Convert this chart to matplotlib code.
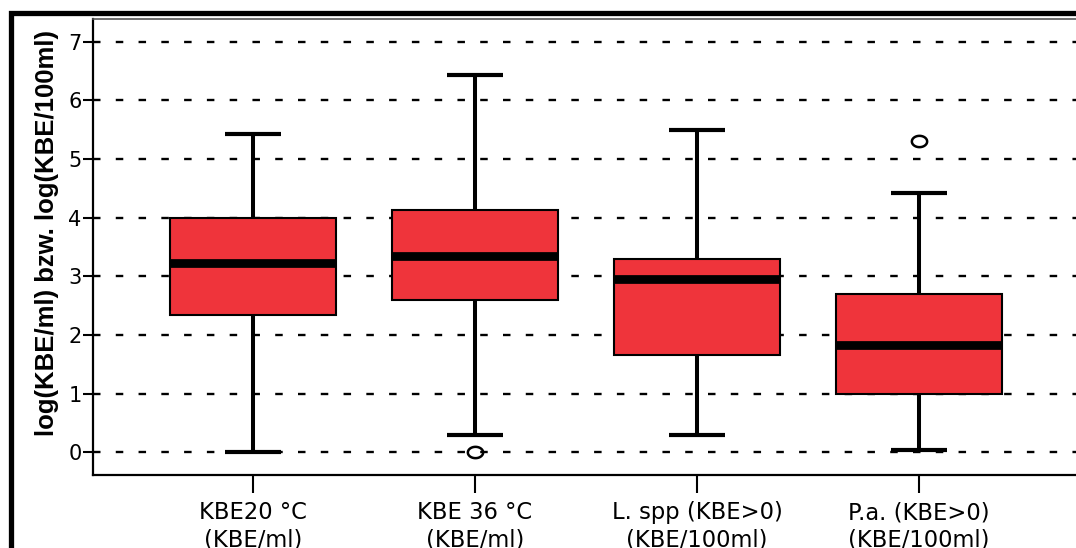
import matplotlib
matplotlib.use("Agg")
import numpy as np
import matplotlib.pyplot as plt
from matplotlib.patches import Rectangle
from matplotlib.path import Path

plt.rcParams['font.family'] = ['Liberation Sans', 'DejaVu Sans']
plt.rcParams['lines.scale_dashes'] = False

categories = ["KBE20 °C\n(KBE/ml)", "KBE 36 °C\n(KBE/ml)",
              "L. spp (KBE>0)\n(KBE/100ml)", "P.a. (KBE>0)\n(KBE/100ml)"]
whisker_low = [0.0, 0.30, 0.30, 0.04]
q1 = [2.34, 2.59, 1.65, 1.00]
median = [3.22, 3.35, 2.95, 1.83]
q3 = [4.00, 4.13, 3.30, 2.70]
whisker_high = [5.42, 6.43, 5.50, 4.42]
outliers = [[], [0.0], [], [5.30]]
y_ticks = [0, 1, 2, 3, 4, 5, 6, 7]

stats = []
for i, lab in enumerate(categories):
    stats.append(dict(label=lab, whislo=whisker_low[i], q1=q1[i], med=median[i],
                      q3=q3[i], whishi=whisker_high[i], fliers=outliers[i]))

# slightly wide ellipse marker for outliers
t = np.linspace(0, 2 * np.pi, 60)
ell = Path(np.column_stack([np.cos(t), 0.74 * np.sin(t)]), closed=True)

fig = plt.figure(figsize=(10.76, 5.48), dpi=100)
ax = fig.add_axes([93/1076, 73/548, (1079-93)/1076, (475-19)/548])

for y in y_ticks:
    ax.axhline(y, color='black', lw=1.7, dashes=(5.4, 11.0), zorder=1)

ax.bxp(stats, positions=[1, 2, 3, 4], widths=0.75, patch_artist=True,
       showfliers=True,
       boxprops=dict(facecolor='#EF343B', edgecolor='black', linewidth=1.5),
       medianprops=dict(color='black', linewidth=6.3, solid_capstyle='butt'),
       whiskerprops=dict(color='black', linewidth=2.9, solid_capstyle='butt'),
       capprops=dict(color='black', linewidth=3.0, solid_capstyle='butt'),
       capwidths=0.25,
       flierprops=dict(marker=ell, markerfacecolor='none', markeredgecolor='black',
                       markersize=11, markeredgewidth=1.8),
       zorder=3)

ax.set_xlim(0.28, 4.72)
ax.set_ylim(-0.39, 7.39)
ax.set_yticks(y_ticks)
ax.set_yticklabels([str(v) for v in y_ticks], fontsize=15, family=['DejaVu Sans'])
ax.tick_params(axis='y', direction='out', length=7.2, width=1.5, color='black', pad=1)
ax.tick_params(axis='x', direction='out', length=13, width=1.5, color='black', pad=6)
for lab in ax.get_xticklabels():
    lab.set_fontsize(16.3)
    lab.set_family(['DejaVu Sans'])
    lab.set_linespacing(1.22)

ax.spines['left'].set_linewidth(1.6)
ax.spines['bottom'].set_linewidth(1.6)
ax.spines['top'].set_linewidth(1.2)
ax.spines['top'].set_color('#555555')
ax.spines['right'].set_visible(False)

fig.text(47/1076, 1 - 233.5/548, "log(KBE/ml) bzw. log(KBE/100ml)", rotation=90,
         ha='center', va='center', fontsize=18.5, fontweight='bold')

frame = Rectangle((10.5/1076, -0.1), 1.2, (548-12.5)/548 + 0.1, transform=fig.transFigure,
                  fill=False, edgecolor='black', linewidth=3.8, clip_on=False)
fig.add_artist(frame)

fig.savefig("out.png", dpi=100)
